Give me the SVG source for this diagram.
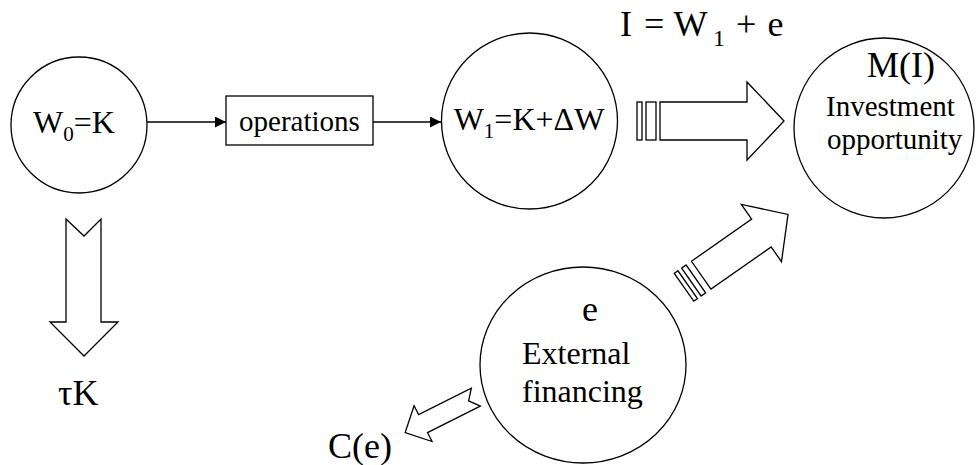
<svg xmlns="http://www.w3.org/2000/svg" width="980" height="465" viewBox="0 0 980 465">
<style>
.s{fill:#fff;stroke:#000;stroke-width:1.3}
.ln{fill:none;stroke:#000;stroke-width:1.3}
</style>
<defs>
<marker id="ah" markerUnits="userSpaceOnUse" markerWidth="12" markerHeight="12" refX="11" refY="5.5" orient="auto">
<path d="M0,0 L11,5.5 L0,11 z" fill="#000"/>
</marker>
</defs>
<rect width="980" height="465" fill="#fff"/>
<g id="connectors">
<line class="ln" x1="147" y1="122" x2="226" y2="122" marker-end="url(#ah)"/>
<line class="ln" x1="373" y1="122" x2="441" y2="122" marker-end="url(#ah)"/>
<g id="arrow-w1-mi">
<rect class="s" x="637" y="102" width="5" height="38"/>
<rect class="s" x="646" y="102" width="10" height="38"/>
<polygon class="s" points="660,102 747,102 747,82 784,121 747,160 747,140 660,140"/>
</g>
<g id="arrow-e-mi" transform="translate(701.2,275.2) rotate(-35)">
<rect class="s" x="-21" y="-17" width="4.5" height="34"/>
<rect class="s" x="-12" y="-17" width="5.5" height="34"/>
<polygon class="s" points="0,-17 73.5,-17 73.5,-35 106,0 73.5,35 73.5,17 0,17"/>
</g>
<polygon id="arrow-tax" class="s" points="66,219 84,236 101,219 101,322 118,322 84,356 50,322 66,322"/>
<polygon id="arrow-cost" class="s" transform="translate(475.8,397.2) rotate(153.4)" points="0,-10 59,-10 59,-20 79,0 59,20 59,10 0,10 8,0"/>
<text font-family="Liberation Serif" font-size="36" y="36"><tspan x="620">I</tspan><tspan x="644">=</tspan><tspan x="673.5">W</tspan><tspan x="713" font-size="24" dy="10">1</tspan><tspan x="736" dy="-10">+</tspan><tspan x="767.5">e</tspan></text>
<text font-family="Liberation Serif" font-size="36" x="58" y="405">&#964;K</text>
<text font-family="Liberation Serif" font-size="36" x="328" y="458">C(e)</text>
</g>
<g id="n-w0">
<circle class="s" cx="79" cy="125" r="68"/>
<text font-family="Liberation Serif" font-size="32" x="33" y="133">W<tspan font-size="21" dy="8">0</tspan><tspan dy="-8">=K</tspan></text>
</g>
<g id="n-ops">
<rect class="s" x="226" y="96" width="147" height="49"/>
<text font-family="Liberation Serif" font-size="29" x="299.5" y="131" text-anchor="middle">operations</text>
</g>
<g id="n-w1">
<circle class="s" cx="529.5" cy="121" r="88"/>
<text font-family="Liberation Serif" font-size="32" x="529" y="130" text-anchor="middle">W<tspan font-size="21" dy="8">1</tspan><tspan dy="-8">=K+&#916;W</tspan></text>
</g>
<g id="n-mi">
<circle class="s" cx="884" cy="128" r="90"/>
<text font-family="Liberation Serif" font-size="36" x="901" y="77" text-anchor="middle">M(I)</text>
<text font-family="Liberation Serif" font-size="29" x="826" y="115.5">Investment</text>
<text font-family="Liberation Serif" font-size="29" x="827" y="148.5">opportunity</text>
</g>
<g id="n-e">
<ellipse class="s" cx="583" cy="365" rx="103" ry="98"/>
<text font-family="Liberation Serif" font-size="36" x="590" y="321" text-anchor="middle">e</text>
<text font-family="Liberation Serif" font-size="32" x="522" y="364">External</text>
<text font-family="Liberation Serif" font-size="32" x="522" y="402">financing</text>
</g>
</svg>
